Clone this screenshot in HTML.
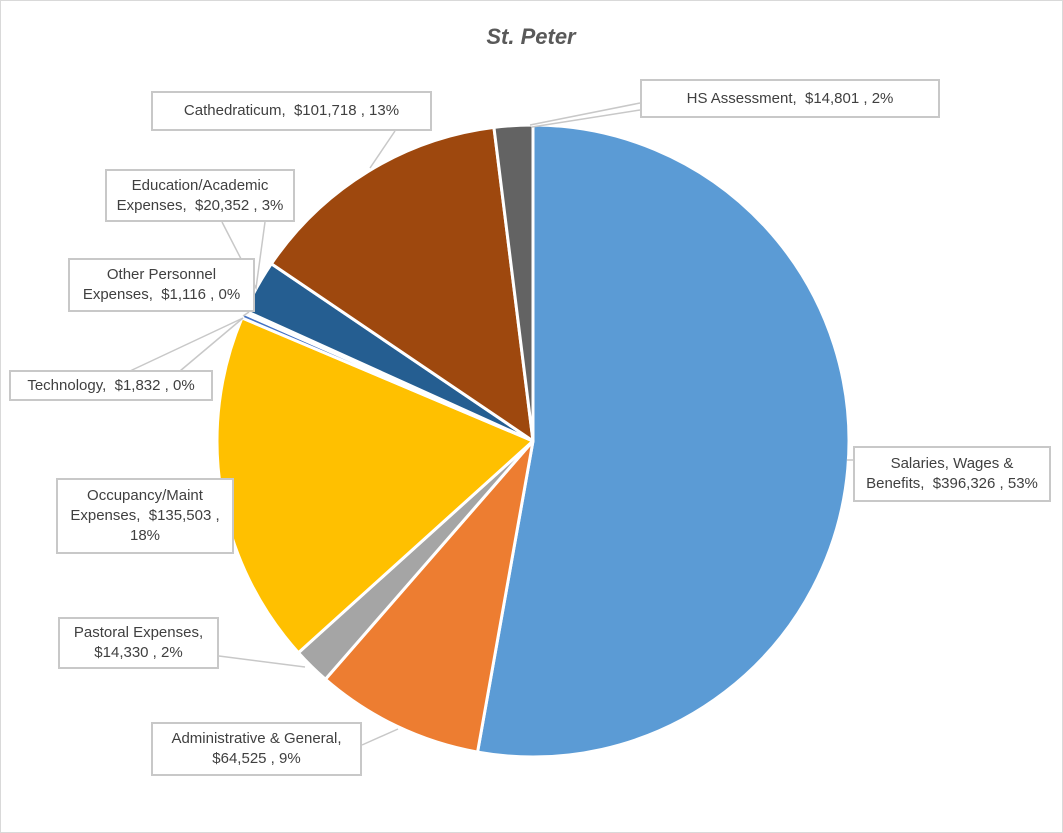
<!DOCTYPE html>
<html><head><style>
body{margin:0;background:#fff}
#c{position:relative;width:1063px;height:833px;overflow:hidden;font-family:"Liberation Sans",sans-serif}
.b{position:absolute;border:2px solid #c8c8c8;background:#fff;color:#404040;font-size:15px;line-height:20px;text-align:center;box-sizing:border-box;display:flex;align-items:center;justify-content:center;white-space:nowrap}
</style></head><body><div id="c">
<svg id="s" width="1063" height="833" style="position:absolute;left:0;top:0">
<rect x="0.5" y="0.5" width="1062" height="832" fill="#fff" stroke="#d9d9d9"/>
<text x="531" y="44" text-anchor="middle" font-family="Liberation Sans, sans-serif" font-size="22" font-weight="bold" font-style="italic" fill="#595959">St. Peter</text>
<g id="p"></g>
<g stroke="#c8c8c8" stroke-width="1.5" fill="none">
<polyline points="640,103 530,125"/><polyline points="640,110 532,127"/>
<polyline points="370,168 395,131"/>
<polyline points="222,222 256,288 265,222"/>
<polyline points="249,312 243,316"/>
<polyline points="130,371 243,318 180,371"/>
<polyline points="219,656 305,667"/>
<polyline points="362,745 398,729"/>
<polyline points="853,460 847,460"/>
</g>
</svg>
<div class="b" style="left:640px;top:79px;width:300px;height:39px">HS Assessment,&nbsp; $14,801 , 2%</div>
<div class="b" style="left:151px;top:91px;width:281px;height:40px">Cathedraticum,&nbsp; $101,718 , 13%</div>
<div class="b" style="left:105px;top:169px;width:190px;height:53px">Education/Academic<br>Expenses,&nbsp; $20,352 , 3%</div>
<div class="b" style="left:68px;top:258px;width:187px;height:54px">Other Personnel<br>Expenses,&nbsp; $1,116 , 0%</div>
<div class="b" style="left:9px;top:370px;width:204px;height:31px">Technology,&nbsp; $1,832 , 0%</div>
<div class="b" style="left:56px;top:478px;width:178px;height:76px">Occupancy/Maint<br>Expenses,&nbsp; $135,503 ,<br>18%</div>
<div class="b" style="left:58px;top:617px;width:161px;height:52px">Pastoral Expenses,<br>$14,330 , 2%</div>
<div class="b" style="left:151px;top:722px;width:211px;height:54px">Administrative &amp; General,<br>$64,525 , 9%</div>
<div class="b" style="left:853px;top:446px;width:198px;height:56px">Salaries, Wages &amp;<br>Benefits,&nbsp; $396,326 , 53%</div>
</div>
<script>
var d=[[396326,"#5B9BD5"],[64525,"#ED7D31"],[14330,"#A5A5A5"],[135503,"#FFC000"],[1832,"#4472C4"],[1116,"#70AD47"],[20352,"#255E91"],[101718,"#9E480E"],[14801,"#636363"]];
var t=0;d.forEach(function(x){t+=x[0]});
var cx=533,cy=441,r=316,a=0,h="";
d.forEach(function(x){var a2=a+x[0]/t*2*Math.PI;
var x1=cx+r*Math.sin(a),y1=cy-r*Math.cos(a),x2=cx+r*Math.sin(a2),y2=cy-r*Math.cos(a2);
h+='<path d="M'+cx+','+cy+'L'+x1+','+y1+'A'+r+','+r+' 0 '+((a2-a)>Math.PI?1:0)+' 1 '+x2+','+y2+'Z" fill="'+x[1]+'" stroke="#fff" stroke-width="3" stroke-linejoin="round"/>';a=a2;});
document.getElementById("p").innerHTML=h;
</script>
</body></html>
